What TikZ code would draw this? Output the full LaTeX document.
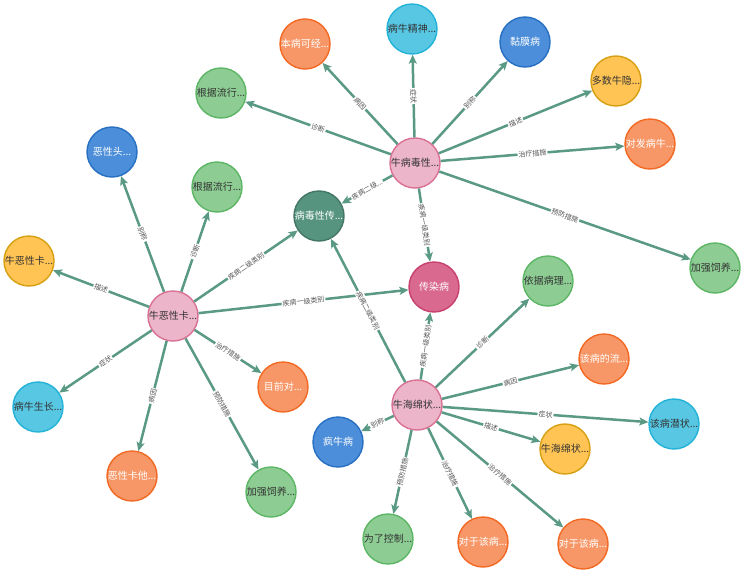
\documentclass[tikz,border=0pt]{standalone}
\usepackage{fontspec}
\newfontfamily\cjk{Noto Sans CJK SC}
\usetikzlibrary{arrows.meta}

\definecolor{pinkF}{HTML}{ECB5C9}
\definecolor{pinkD}{HTML}{DA7194}
\definecolor{redF}{HTML}{D9698F}
\definecolor{redD}{HTML}{C8406E}
\definecolor{orangeF}{HTML}{F79767}
\definecolor{orangeD}{HTML}{F36924}
\definecolor{cyanF}{HTML}{57C7E3}
\definecolor{cyanD}{HTML}{23B3D7}
\definecolor{blueF}{HTML}{4C8EDA}
\definecolor{blueD}{HTML}{2870C2}
\definecolor{yellowF}{HTML}{FFC454}
\definecolor{yellowD}{HTML}{D7A013}
\definecolor{greenF}{HTML}{8DCC93}
\definecolor{greenD}{HTML}{5DB665}
\definecolor{dgreenF}{HTML}{569480}
\definecolor{dgreenD}{HTML}{447666}
\definecolor{edgeC}{HTML}{5A9A85}
\definecolor{labC}{HTML}{555555}

\begin{document}
\begin{tikzpicture}[
            x=1pt, y=-1pt,
            >={Stealth[length=9pt, width=8pt, inset=2pt]},
            ent/.style={circle, minimum size=50pt, inner sep=0pt, line width=1.4pt,
                font=\cjk\fontsize{10}{11}\selectfont},
            disease/.style={ent, fill=pinkF, draw=pinkD, text=black!80},
            class one/.style={ent, fill=redF, draw=redD, text=white},
            class two/.style={ent, fill=dgreenF, draw=dgreenD, text=white},
            cause/.style={ent, fill=orangeF, draw=orangeD, text=white},
            therapy/.style={ent, fill=orangeF, draw=orangeD, text=white},
            symptom/.style={ent, fill=cyanF, draw=cyanD, text=black!80},
            aka/.style={ent, fill=blueF, draw=blueD, text=white},
            descr/.style={ent, fill=yellowF, draw=yellowD, text=black!80},
            prevent/.style={ent, fill=greenF, draw=greenD, text=black!80},
            diagnose/.style={ent, fill=greenF, draw=greenD, text=black!80},
            rel/.style={->, draw=edgeC, fill=edgeC, line width=2.5pt},
            lab/.style={sloped, fill=white, inner sep=1pt, text=labC,
                font=\cjk\fontsize{7}{8}\selectfont}
        ]
            \fill[white] (0,0) rectangle (745,573);
            \useasboundingbox (0,0) rectangle (745,573);

            % diseases and classes
            \node[disease] (bvd) at (415,163) {牛病毒性...};
            \node[disease] (mcf) at (173,316) {牛恶性卡...};
            \node[disease] (bse) at (417,405) {牛海绵状...};
            \node[class two] (vir) at (319,216) {病毒性传...};
            \node[class one] (inf) at (434,287) {传染病};

            % bovine viral diarrhoea
            \node[cause] (bvdA) at (305,44) {本病可经...};
            \node[symptom] (bvdB) at (412,29) {病牛精神...};
            \node[aka] (bvdC) at (525,42) {黏膜病};
            \node[descr] (bvdD) at (616,81) {多数牛隐...};
            \node[therapy] (bvdE) at (650,144) {对发病牛...};
            \node[prevent] (bvdF) at (715,268) {加强饲养...};
            \node[diagnose] (bvdG) at (221,93) {根据流行...};

            % malignant catarrhal fever
            \node[aka] (mcfA) at (112,152) {恶性头...};
            \node[diagnose] (mcfB) at (217,187) {根据流行...};
            \node[descr] (mcfC) at (29,261) {牛恶性卡...};
            \node[symptom] (mcfD) at (38,407) {病牛生长...};
            \node[cause] (mcfE) at (132,476) {恶性卡他...};
            \node[therapy] (mcfF) at (283,387) {目前对...};
            \node[prevent] (mcfG) at (271,492) {加强饲养...};

            % spongiform encephalopathy
            \node[diagnose] (bseA) at (548,281) {依据病理...};
            \node[cause] (bseB) at (604,359) {该病的流...};
            \node[symptom] (bseC) at (674,424) {该病潜状...};
            \node[descr] (bseD) at (565,449) {牛海绵状...};
            \node[therapy] (bseE) at (583,544) {对于该病...};
            \node[therapy] (bseF) at (483,542) {对于该病...};
            \node[prevent] (bseG) at (388,539) {为了控制...};
            \node[aka] (bseH) at (338,442) {疯牛病};

            \draw[rel] (bvd) -- node[lab] {病因} (bvdA);
            \draw[rel] (bvd) -- node[lab] {症状} (bvdB);
            \draw[rel] (bvd) -- node[lab] {别称} (bvdC);
            \draw[rel] (bvd) -- node[lab] {描述} (bvdD);
            \draw[rel] (bvd) -- node[lab] {治疗措施} (bvdE);
            \draw[rel] (bvd) -- node[lab] {预防措施} (bvdF);
            \draw[rel] (bvd) -- node[lab] {诊断} (bvdG);
            \draw[rel] (bvd) -- node[lab] {疾病二级...} (vir);
            \draw[rel] (bvd) -- node[lab] {疾病一级类别} (inf);

            \draw[rel] (mcf) -- node[lab] {别称} (mcfA);
            \draw[rel] (mcf) -- node[lab] {诊断} (mcfB);
            \draw[rel] (mcf) -- node[lab] {描述} (mcfC);
            \draw[rel] (mcf) -- node[lab] {症状} (mcfD);
            \draw[rel] (mcf) -- node[lab] {病因} (mcfE);
            \draw[rel] (mcf) -- node[lab] {治疗措施} (mcfF);
            \draw[rel] (mcf) -- node[lab] {预防措施} (mcfG);
            \draw[rel] (mcf) -- node[lab] {疾病二级类别} (vir);
            \draw[rel] (mcf) -- node[lab] {疾病一级类别} (inf);

            \draw[rel] (bse) -- node[lab] {诊断} (bseA);
            \draw[rel] (bse) -- node[lab] {病因} (bseB);
            \draw[rel] (bse) -- node[lab] {症状} (bseC);
            \draw[rel] (bse) -- node[lab] {描述} (bseD);
            \draw[rel] (bse) -- node[lab] {治疗措施} (bseE);
            \draw[rel] (bse) -- node[lab] {治疗措施} (bseF);
            \draw[rel] (bse) -- node[lab] {预防措施} (bseG);
            \draw[rel] (bse) -- node[lab] {别称} (bseH);
            \draw[rel] (bse) -- node[lab] {疾病二级类别} (vir);
            \draw[rel] (bse) -- node[lab] {疾病一级类别} (inf);
        \end{tikzpicture}
\end{document}
